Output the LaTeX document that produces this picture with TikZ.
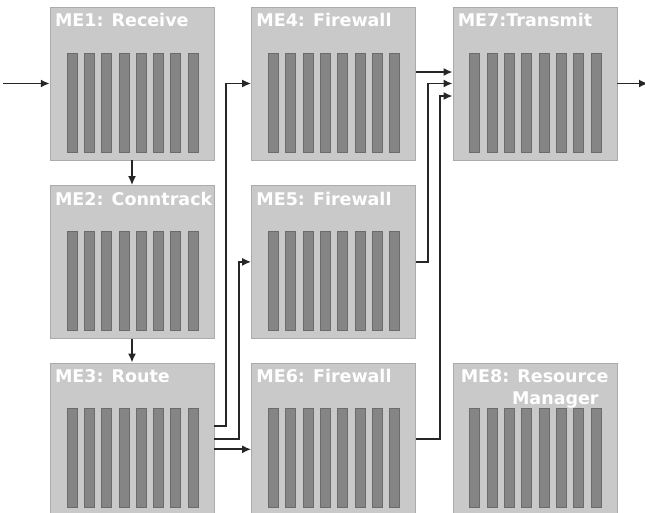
\documentclass[tikz,border=0pt]{standalone}
\usepackage{fontspec}
\setsansfont{DejaVu Sans}
\usetikzlibrary{arrows.meta, positioning, calc}
\tikzstyle{engine} = [rectangle, minimum width=164pt, minimum height=153pt, inner sep=0pt, draw=black!33, fill=black!21]
\tikzstyle{title} = [anchor=base west, inner sep=0pt, text=white, font=\sffamily\bfseries\fontsize{17.5}{22}\selectfont]
\tikzstyle{bar} = [draw=black!58, fill=black!48]
\tikzstyle{arrow} = [line width=1.8pt, draw=black!85, ->, >={Latex[length=9pt,width=8pt]}]

\begin{document}
\begin{tikzpicture}[x=1pt, y=1pt]
    \useasboundingbox (0,0) rectangle (645,-512);

    % micro-engines
    \node (me1) [engine] at (132,-83.5) {};
    \node (me2) [engine, below=25pt of me1] {};
    \node (me3) [engine, below=24pt of me2] {};
    \node (me4) [engine, right=37pt of me1] {};
    \node (me5) [engine, below=25pt of me4] {};
    \node (me6) [engine, below=24pt of me5] {};
    \node (me7) [engine, right=37pt of me4] {};
    \node (me8) [engine, right=37pt of me6] {};

    % threads
    \foreach \m in {me1,me2,me3,me4,me5,me6,me7,me8}
        \foreach \i in {0,...,7}
            \draw [bar] ($(\m.north west)+(17+17.3*\i,-46)$) rectangle ++(10,-99);

    \node (t1) [title] at ($(me1.north west)+(5,-20)$) {ME1: Receive};
    \node (t2) [title] at ($(me2.north west)+(5,-20)$) {ME2: Conntrack};
    \node (t3) [title] at ($(me3.north west)+(5,-20)$) {ME3: Route};
    \node (t4) [title] at ($(me4.north west)+(5,-20)$) {ME4: Firewall};
    \node (t5) [title] at ($(me5.north west)+(5,-20)$) {ME5: Firewall};
    \node (t6) [title] at ($(me6.north west)+(5,-20)$) {ME6: Firewall};
    \node (t7) [title] at ($(me7.north west)+(5,-20)$) {ME7:Transmit};
    \node (t8) [title, align=right] at ($(me8.north west)+(8,-42)$) {ME8: Resource\\Manager\hspace*{10pt}};

    \coordinate (in) at (3,-83.5);
    \coordinate (out) at (648,-83.5);

    \draw [arrow] (in) -- (me1.west);
    \draw [arrow] (me7.east) -- (out);
    \draw [arrow] (me1.south) -- (me2.north);
    \draw [arrow] (me2.south) -- (me3.north);

    \draw [arrow] ([yshift=11.5pt]me4.east) -- ([yshift=11.5pt]me7.west);
    \draw [arrow] (me5.east) -- ++(12,0) |- (me7.west);
    \draw [arrow] (me6.east) -- ++(24,0) |- ([yshift=-12.5pt]me7.west);

    \draw [arrow] ([yshift=13.5pt]me3.east) -- ++(12,0) |- (me4.west);
    \draw [arrow] (me3.east) -- ++(25,0) |- (me5.west);
    \draw [arrow] ([yshift=-10pt]me3.east) -- ([yshift=-10pt]me6.west);
\end{tikzpicture}
\end{document}
